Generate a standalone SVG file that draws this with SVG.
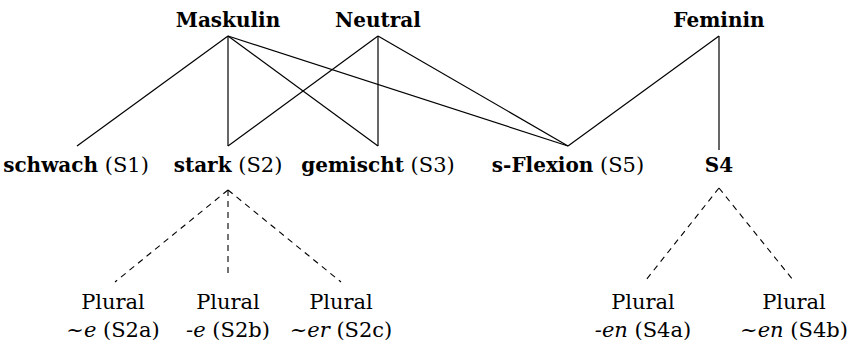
<svg xmlns="http://www.w3.org/2000/svg" width="847" height="351" viewBox="0 0 847 351">
<style>
.t{font-family:"DejaVu Serif",serif;font-size:21px;fill:#000;text-anchor:middle}
.b{font-weight:bold;font-size:20px}
.i{font-style:italic}
.ln{stroke:#000;stroke-width:1.2;fill:none}
.d{stroke:#000;stroke-width:1.1;fill:none;stroke-dasharray:6 5}
</style>
<rect width="847" height="351" fill="#fff"/>
<g id="connectors">
<line class="ln" x1="228" y1="36" x2="77" y2="146"/>
<line class="ln" x1="228" y1="36" x2="228" y2="146"/>
<line class="ln" x1="228" y1="36" x2="378" y2="146"/>
<line class="ln" x1="228" y1="36" x2="568" y2="146"/>
<line class="ln" x1="378" y1="36" x2="228" y2="146"/>
<line class="ln" x1="378" y1="36" x2="378" y2="146"/>
<line class="ln" x1="378" y1="36" x2="568" y2="146"/>
<line class="ln" x1="719" y1="36" x2="568" y2="146"/>
<line class="ln" x1="719" y1="36" x2="719" y2="150"/>
<line class="d" x1="228" y1="190" x2="115" y2="282"/>
<line class="d" x1="228" y1="190" x2="228" y2="278"/>
<line class="d" x1="228" y1="190" x2="341" y2="282"/>
<line class="d" x1="719" y1="188" x2="646" y2="280"/>
<line class="d" x1="719" y1="188" x2="793" y2="280"/>
</g>
<g id="maskulin"><text class="t b" x="228" y="27">Maskulin</text></g>
<g id="neutral"><text class="t b" x="378" y="27">Neutral</text></g>
<g id="feminin"><text class="t b" x="719" y="27">Feminin</text></g>
<g id="s1"><text class="t" x="76" y="172"><tspan class="b">schwach</tspan> (S1)</text></g>
<g id="s2"><text class="t" x="228" y="172"><tspan class="b">stark</tspan> (S2)</text></g>
<g id="s3"><text class="t" x="378" y="172"><tspan class="b">gemischt</tspan> (S3)</text></g>
<g id="s5"><text class="t" x="568" y="172"><tspan class="b">s-Flexion</tspan> (S5)</text></g>
<g id="s4"><text class="t b" x="719" y="172">S4</text></g>
<g id="s2a"><text class="t" x="113" y="309">Plural</text><text class="t" x="113" y="337"><tspan class="i">~e</tspan> (S2a)</text></g>
<g id="s2b"><text class="t" x="228" y="309">Plural</text><text class="t" x="228" y="337"><tspan class="i">-e</tspan> (S2b)</text></g>
<g id="s2c"><text class="t" x="341" y="309">Plural</text><text class="t" x="341" y="337"><tspan class="i">~er</tspan> (S2c)</text></g>
<g id="s4a"><text class="t" x="643" y="309">Plural</text><text class="t" x="643" y="337"><tspan class="i">-en</tspan> (S4a)</text></g>
<g id="s4b"><text class="t" x="794" y="309">Plural</text><text class="t" x="794" y="337"><tspan class="i">~en</tspan> (S4b)</text></g>
</svg>
